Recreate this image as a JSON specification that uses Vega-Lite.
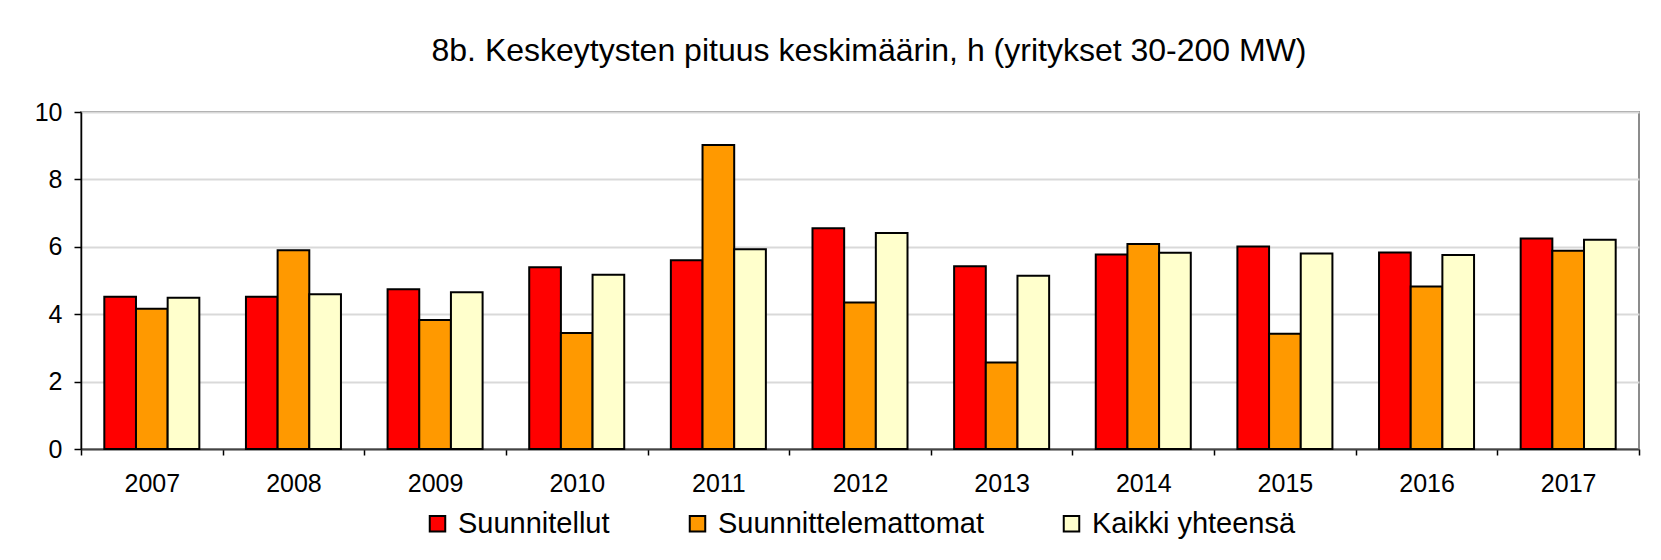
{
  "$schema": "https://vega.github.io/schema/vega-lite/v6.json",
  "width": 1558,
  "height": 337,
  "autosize": {"type": "none"},
  "padding": {"left": 81, "top": 112, "right": 22, "bottom": 111},
  "background": "white",
  "title": {"text": "8b. Keskeytysten pituus keskimäärin, h (yritykset 30-200 MW)", "fontSize": 32, "font": "Liberation Sans", "fontWeight": "normal", "color": "black", "offset": 32, "dx": 9, "anchor": "middle"},
  "data": {"values": [
    {"vuosi": "2007", "sarja": "Suunnitellut", "h": 4.52},
    {"vuosi": "2007", "sarja": "Suunnittelemattomat", "h": 4.16},
    {"vuosi": "2007", "sarja": "Kaikki yhteensä", "h": 4.49},
    {"vuosi": "2008", "sarja": "Suunnitellut", "h": 4.52},
    {"vuosi": "2008", "sarja": "Suunnittelemattomat", "h": 5.9},
    {"vuosi": "2008", "sarja": "Kaikki yhteensä", "h": 4.59},
    {"vuosi": "2009", "sarja": "Suunnitellut", "h": 4.74},
    {"vuosi": "2009", "sarja": "Suunnittelemattomat", "h": 3.83},
    {"vuosi": "2009", "sarja": "Kaikki yhteensä", "h": 4.65},
    {"vuosi": "2010", "sarja": "Suunnitellut", "h": 5.39},
    {"vuosi": "2010", "sarja": "Suunnittelemattomat", "h": 3.44},
    {"vuosi": "2010", "sarja": "Kaikki yhteensä", "h": 5.17},
    {"vuosi": "2011", "sarja": "Suunnitellut", "h": 5.6},
    {"vuosi": "2011", "sarja": "Suunnittelemattomat", "h": 9.02},
    {"vuosi": "2011", "sarja": "Kaikki yhteensä", "h": 5.93},
    {"vuosi": "2012", "sarja": "Suunnitellut", "h": 6.55},
    {"vuosi": "2012", "sarja": "Suunnittelemattomat", "h": 4.35},
    {"vuosi": "2012", "sarja": "Kaikki yhteensä", "h": 6.41},
    {"vuosi": "2013", "sarja": "Suunnitellut", "h": 5.42},
    {"vuosi": "2013", "sarja": "Suunnittelemattomat", "h": 2.57},
    {"vuosi": "2013", "sarja": "Kaikki yhteensä", "h": 5.14},
    {"vuosi": "2014", "sarja": "Suunnitellut", "h": 5.77},
    {"vuosi": "2014", "sarja": "Suunnittelemattomat", "h": 6.08},
    {"vuosi": "2014", "sarja": "Kaikki yhteensä", "h": 5.82},
    {"vuosi": "2015", "sarja": "Suunnitellut", "h": 6.01},
    {"vuosi": "2015", "sarja": "Suunnittelemattomat", "h": 3.42},
    {"vuosi": "2015", "sarja": "Kaikki yhteensä", "h": 5.8},
    {"vuosi": "2016", "sarja": "Suunnitellut", "h": 5.83},
    {"vuosi": "2016", "sarja": "Suunnittelemattomat", "h": 4.82},
    {"vuosi": "2016", "sarja": "Kaikki yhteensä", "h": 5.76},
    {"vuosi": "2017", "sarja": "Suunnitellut", "h": 6.25},
    {"vuosi": "2017", "sarja": "Suunnittelemattomat", "h": 5.88},
    {"vuosi": "2017", "sarja": "Kaikki yhteensä", "h": 6.21}
  ]},
  "mark": {"type": "bar", "stroke": "black", "strokeWidth": 2},
  "encoding": {
    "x": {
      "field": "vuosi", "type": "nominal",
      "scale": {"paddingInner": 0, "paddingOuter": 0},
      "axis": {"title": null, "labelAngle": 0, "tickBand": "extent", "tickSize": 6, "labelPadding": 16, "domainColor": "#444444", "domainWidth": 2, "tickColor": "black", "tickWidth": 1.5, "labelFontSize": 25, "labelColor": "black", "labelFont": "Liberation Sans", "grid": false}
    },
    "xOffset": {
      "field": "sarja", "type": "nominal",
      "sort": ["Suunnitellut", "Suunnittelemattomat", "Kaikki yhteensä"],
      "scale": {"paddingOuter": 0.736, "paddingInner": 0}
    },
    "y": {
      "field": "h", "type": "quantitative",
      "scale": {"domain": [0, 10]},
      "axis": {"title": null, "values": [0, 2, 4, 6, 8, 10], "tickSize": 7, "labelPadding": 12, "tickColor": "black", "tickWidth": 1.5, "domainColor": "black", "domainWidth": 1.5, "gridColor": "#d9d9d9", "gridWidth": 2, "labelFontSize": 25, "labelColor": "black", "labelFont": "Liberation Sans"}
    },
    "color": {
      "field": "sarja", "type": "nominal",
      "sort": ["Suunnitellut", "Suunnittelemattomat", "Kaikki yhteensä"],
      "scale": {"domain": ["Suunnitellut", "Suunnittelemattomat", "Kaikki yhteensä"], "range": ["#ff0000", "#ff9900", "#ffffcc"]},
      "legend": {"title": null, "orient": "none", "legendX": 342, "legendY": 397, "direction": "horizontal", "symbolType": "square", "symbolSize": 240, "symbolStrokeColor": "black", "symbolStrokeWidth": 2, "labelFontSize": 29, "labelFont": "Liberation Sans", "labelColor": "black", "labelLimit": 600, "columnPadding": 73, "labelOffset": 6}
    }
  },
  "config": {
    "font": "Liberation Sans",
    "view": {"stroke": "#8c8c8c", "strokeWidth": 2}
  }
}
